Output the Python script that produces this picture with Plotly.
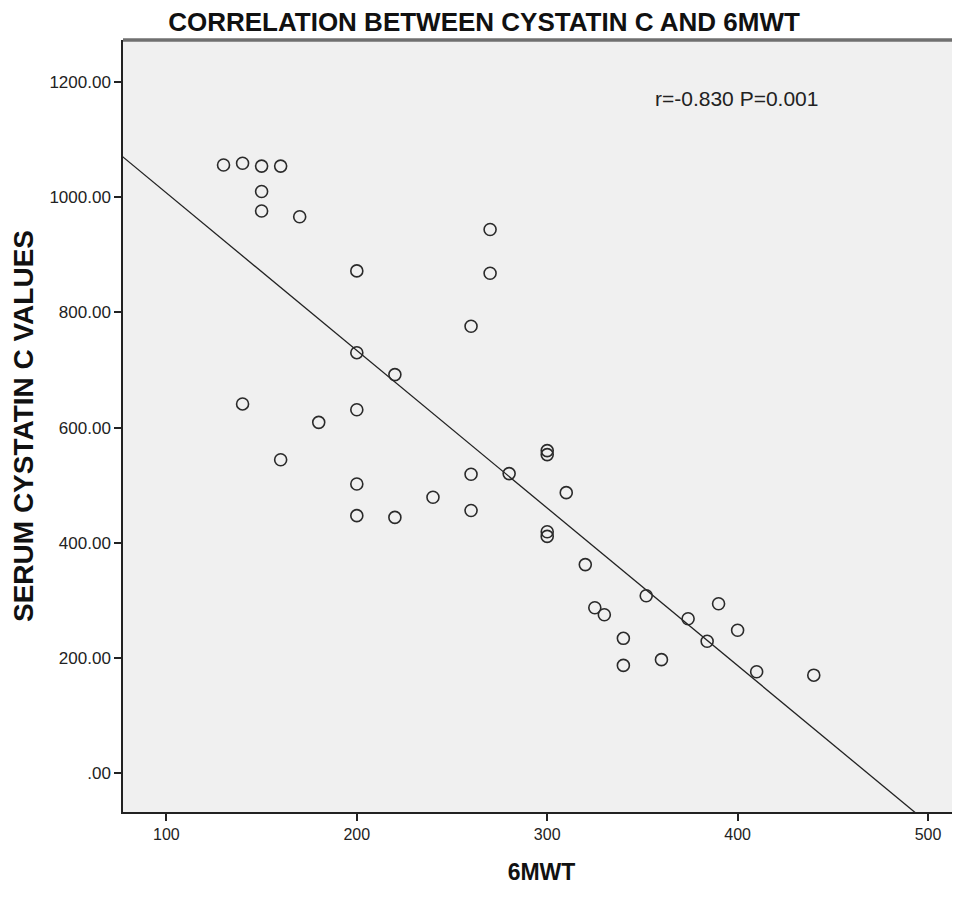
import plotly.graph_objects as go

# 6MWT (x) and serum cystatin C values (y)
walk_6mwt = [130, 140, 150, 160, 150, 150, 170, 200, 200, 220,
             140, 180, 200, 160, 200, 200, 220, 240,
             270, 270, 260, 260, 260, 280, 300, 300, 310, 300, 300,
             320, 325, 330, 352, 340, 340, 360, 374, 390, 384, 400, 410, 440]
cystatin_c = [1056, 1059, 1054, 1054, 1010, 976, 966, 872, 730, 692,
              641, 609, 631, 544, 502, 447, 444, 479,
              944, 868, 776, 519, 456, 520, 560, 553, 487, 419, 411,
              362, 287, 275, 308, 234, 187, 197, 268, 294, 229, 248, 176, 170]

# fit line
fit_intercept = 1281.0
fit_slope = -2.736
fit_x = [70, 530]

x_ticks = [100, 200, 300, 400, 500]
y_ticks = [0, 200, 400, 600, 800, 1000, 1200]
y_tick_labels = [".00", "200.00", "400.00", "600.00", "800.00", "1000.00", "1200.00"]

sans = "Liberation Sans, Arial"

fig = go.Figure()
fig.add_trace(go.Scatter(
    x=fit_x, y=[fit_intercept + fit_slope * v for v in fit_x],
    mode="lines", line=dict(color="#222222", width=1.3),
    hoverinfo="skip", showlegend=False))
fig.add_trace(go.Scatter(
    x=walk_6mwt, y=cystatin_c, mode="markers",
    marker=dict(symbol="circle-open", size=12, color="#2a2a2a",
                line=dict(width=1.6, color="#2a2a2a")),
    showlegend=False))

fig.add_annotation(x=0.833, y=1172, xref="paper", yref="y", text="r=-0.830 P=0.001",
                   showarrow=False, font=dict(family=sans, size=21, color="#222"),
                   xanchor="right", yanchor="middle")

# top border of the plot frame (grey, thicker)
fig.add_shape(type="line", xref="paper", yref="paper", x0=0, x1=1, y0=1, y1=1,
              line=dict(color="#707070", width=3.5))

fig.update_layout(
    width=952, height=884,
    margin=dict(l=115, r=0, t=32, b=80),
    paper_bgcolor="white", plot_bgcolor="#f0f0f0",
    title=dict(text="<b>CORRELATION BETWEEN CYSTATIN C AND 6MWT</b>", x=0.5, xanchor="center",
               y=1 - 14 / 884, yanchor="middle",
               font=dict(family=sans, size=26, color="#111")),
)
fig.update_xaxes(range=[77.2, 516.8], tickvals=x_ticks, ticks="outside", ticklen=7,
                 tickwidth=1.5, tickcolor="#222", showgrid=False, zeroline=False,
                 showline=True, linecolor="#222", linewidth=1.5, mirror=False,
                 tickfont=dict(family=sans, size=16, color="#222"),
                 title=dict(text="<b>6MWT</b>", standoff=22,
                            font=dict(family=sans, size=23, color="#111")))
fig.update_yaxes(range=[-67.6, 1273], tickvals=y_ticks, ticktext=y_tick_labels,
                 ticks="outside", ticklen=7, tickwidth=1.5, tickcolor="#222",
                 showgrid=False, zeroline=False, showline=True, linecolor="#222",
                 linewidth=1.5, mirror=False,
                 tickfont=dict(family=sans, size=17, color="#222"),
                 title=dict(text="<b>SERUM CYSTATIN C VALUES</b>", standoff=8,
                            font=dict(family=sans, size=28, color="#111")))

fig.write_html("out.html")
